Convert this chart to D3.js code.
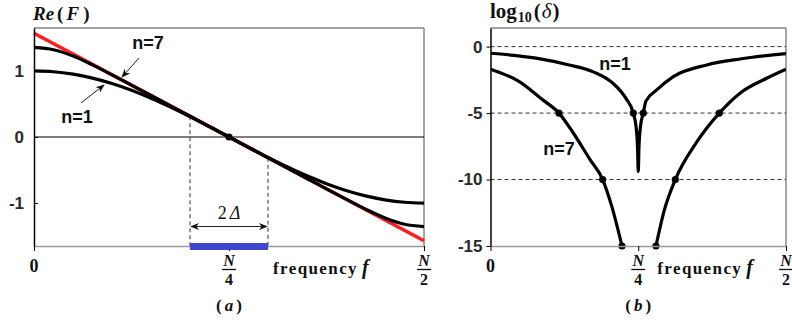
<!DOCTYPE html>
<html>
<head>
<meta charset="utf-8">
<script src="https://cdn.jsdelivr.net/npm/d3@7"></script>
<style>
body { margin: 0; background: #fff; }
.tick text { font-family: "Liberation Sans", Arial, sans-serif; font-weight: bold; font-size: 17px; fill: #2a2a2a; }
.serif { font-family: "Liberation Serif", "Times New Roman", serif; font-weight: bold; }
.lbl { font-family: "Liberation Sans", Arial, sans-serif; font-weight: bold; font-size: 18px; fill: #111; }
</style>
</head>
<body>
<svg width="792" height="320"></svg>
<script>
// **** data, panel (a): Re(F) against frequency (fraction of N) ****
var freqA = [0, 0.025, 0.05, 0.075, 0.1, 0.125, 0.15, 0.175, 0.2, 0.225, 0.25,
             0.275, 0.3, 0.325, 0.35, 0.375, 0.4, 0.425, 0.45, 0.475, 0.5];
var reN1 = [1, 0.988, 0.951, 0.891, 0.809, 0.707, 0.588, 0.454, 0.309, 0.156, 0,
            -0.156, -0.309, -0.454, -0.588, -0.707, -0.809, -0.891, -0.951, -0.988, -1];
var reN7 = [1.356, 1.321, 1.226, 1.092, 0.941, 0.785, 0.628, 0.471, 0.314, 0.157, 0,
            -0.157, -0.314, -0.471, -0.628, -0.785, -0.941, -1.092, -1.226, -1.321, -1.356];
var idealF = [0, 0.5];
var idealRe = [1.571, -1.571];
var ticksA = [-1, 0, 1];
var bandA = [0.2, 0.3];

// **** data, panel (b): log10(delta) ****
var n1F   = [0, 0.077, 0.133, 0.173, 0.207, 0.229, 0.2416, 0.2462, 0.2488, 0.25, 0.2512, 0.2538, 0.2585, 0.263, 0.2813, 0.3093, 0.3658, 0.4222, 0.5];
var n1Log = [-0.5, -0.87, -1.38, -1.88, -2.75, -3.88, -5, -6.0, -7.6, -9.4, -7.6, -6.0, -5, -4.1, -3.26, -2.26, -1.38, -0.93, -0.52];
var n7LeftF   = [0, 0.0487, 0.0883, 0.1159, 0.1401, 0.1684, 0.1898, 0.2051, 0.2225];
var n7LeftLog = [-1.7, -2.63, -4.0, -5, -6.5, -8.5, -10, -12.0, -15];
var n7RightF   = [0.28, 0.2941, 0.3127, 0.3477, 0.3871, 0.4222, 0.4673, 0.5];
var n7RightLog = [-15, -12.3, -10, -7.26, -5, -3.5, -2.38, -1.7];
var dotF   = [0.2416, 0.2585, 0.1159, 0.3871, 0.1898, 0.3127, 0.2225, 0.28];
var dotLog = [-5, -5, -5, -5, -10, -10, -15, -15];
var ticksB = [0, -5, -10, -15];
var gridB = [0, -5, -10];

var svg = d3.select('svg');

// **** scales ****
var xA = d3.scaleLinear().domain([0, 0.5]).range([34, 424]);
var yA = d3.scaleLinear().domain([-1.65, 1.65]).range([246, 28]);
var xB = d3.scaleLinear().domain([0, 0.5]).range([490.5, 786]);
var yB = d3.scaleLinear().domain([-15, 1.4]).range([246, 28]);

function zip(a, b) { return a.map(function(v, i) { return [v, b[i]]; }); }
function plain(d) { return String(d); }   // hyphen minus, as in the original

// ================= panel (a) =================
svg.append('line').attr('x1', 34).attr('x2', 424).attr('y1', 28).attr('y2', 28)
    .attr('stroke', '#444').attr('stroke-width', 1.2);
svg.append('line').attr('x1', 424).attr('x2', 424).attr('y1', 28).attr('y2', 246)
    .attr('stroke', '#888').attr('stroke-width', 1.5);
svg.append('line').attr('x1', 34).attr('x2', 424).attr('y1', yA(0)).attr('y2', yA(0))
    .attr('stroke', '#000').attr('stroke-width', 1.2);

// dashed verticals marking the band
bandA.forEach(function(f) {
    svg.append('line').attr('x1', xA(f)).attr('x2', xA(f))
        .attr('y1', yA(reN7[freqA.indexOf(f)])).attr('y2', 246)
        .attr('stroke', '#555').attr('stroke-width', 1.2).attr('stroke-dasharray', '4,3');
});

var lineA = d3.line().x(function(d) { return xA(d[0]); }).y(function(d) { return yA(d[1]); })
    .curve(d3.curveCatmullRom);

svg.append('path').datum(zip(idealF, idealRe)).attr('d', lineA)
    .attr('fill', 'none').attr('stroke', '#ff1e1e').attr('stroke-width', 3.6);
svg.append('path').datum(zip(freqA, reN1)).attr('d', lineA)
    .attr('fill', 'none').attr('stroke', '#000').attr('stroke-width', 3.2);
svg.append('path').datum(zip(freqA, reN7)).attr('d', lineA)
    .attr('fill', 'none').attr('stroke', '#000').attr('stroke-width', 3.2);

svg.append('circle').attr('cx', xA(0.25)).attr('cy', yA(0)).attr('r', 3.6).attr('fill', '#000');

// axes
svg.append('g').attr('transform', 'translate(34,0)')
    .call(d3.axisLeft(yA).tickValues(ticksA).tickFormat(plain)
        .tickSizeInner(-4).tickSizeOuter(0).tickPadding(10))
    .call(function(g) { g.select('.domain').attr('stroke', '#000').attr('stroke-width', 1.5); });

svg.append('g').attr('transform', 'translate(0,246)')
    .call(d3.axisBottom(xA).tickValues([0, 0.25, 0.5]).tickSizeInner(5).tickSizeOuter(0).tickFormat(''))
    .call(function(g) { g.select('.domain').attr('stroke', '#999').attr('stroke-width', 1.5); });

svg.append('rect').attr('x', xA(bandA[0])).attr('y', 243)
    .attr('width', xA(bandA[1]) - xA(bandA[0])).attr('height', 7)
    .attr('fill', '#3f48cc');

// arrow markers
var defs = svg.append('defs');
defs.append('marker').attr('id', 'ah').attr('viewBox', '0 0 10 10').attr('refX', 9).attr('refY', 5)
    .attr('markerWidth', 9).attr('markerHeight', 9).attr('orient', 'auto-start-reverse')
    .attr('markerUnits', 'userSpaceOnUse')
    .append('path').attr('d', 'M0,1 L10,5 L0,9 L3,5 Z').attr('fill', '#111');

// 2-delta double arrow
svg.append('line').attr('x1', xA(bandA[0]) + 1).attr('x2', xA(bandA[1]) - 1)
    .attr('y1', 226.5).attr('y2', 226.5).attr('stroke', '#222').attr('stroke-width', 1)
    .attr('marker-start', 'url(#ah)').attr('marker-end', 'url(#ah)');
var dl = svg.append('text').attr('x', xA(0.25)).attr('y', 219).attr('text-anchor', 'middle')
    .attr('font-family', '"Liberation Serif", serif').attr('font-size', 18).attr('fill', '#111');
dl.append('tspan').text('2');
dl.append('tspan').attr('dx', 3).attr('font-style', 'italic').text('Δ');

// n labels with arrows
svg.append('text').attr('class', 'lbl').attr('x', 148).attr('y', 49).attr('text-anchor', 'middle').text('n=7');
svg.append('line').attr('x1', 139).attr('y1', 58).attr('x2', 122).attr('y2', 77)
    .attr('stroke', '#222').attr('stroke-width', 1).attr('marker-end', 'url(#ah)');
svg.append('text').attr('class', 'lbl').attr('x', 77).attr('y', 123).attr('text-anchor', 'middle').text('n=1');
svg.append('line').attr('x1', 81).attr('y1', 103).attr('x2', 104).attr('y2', 85)
    .attr('stroke', '#222').attr('stroke-width', 1).attr('marker-end', 'url(#ah)');

// title
var tA = svg.append('text').attr('class', 'serif').attr('x', 33).attr('y', 20)
    .attr('font-size', 19).attr('fill', '#111');
tA.append('tspan').attr('font-style', 'italic').text('Re');
tA.append('tspan').attr('dx', 3).text('(');
tA.append('tspan').attr('dx', 3).attr('font-style', 'italic').text('F');
tA.append('tspan').attr('dx', 4).text(')');

// ================= panel (b) =================
svg.append('line').attr('x1', 490.5).attr('x2', 786).attr('y1', 28).attr('y2', 28)
    .attr('stroke', '#444').attr('stroke-width', 1.2);
svg.append('line').attr('x1', 786).attr('x2', 786).attr('y1', 28).attr('y2', 246)
    .attr('stroke', '#888').attr('stroke-width', 1.5);

svg.selectAll('.gridB').data(gridB).enter().append('line').attr('class', 'gridB')
    .attr('x1', 490.5).attr('x2', 786)
    .attr('y1', function(d) { return yB(d); }).attr('y2', function(d) { return yB(d); })
    .attr('stroke', '#333').attr('stroke-width', 1).attr('stroke-dasharray', '4,3');

defs.append('clipPath').attr('id', 'clipB').append('rect')
    .attr('x', 490.5).attr('y', 28).attr('width', 295.5).attr('height', 218);

var lineB = d3.line().x(function(d) { return xB(d[0]); }).y(function(d) { return yB(d[1]); })
    .curve(d3.curveMonotoneX);
var gB = svg.append('g').attr('clip-path', 'url(#clipB)');
[zip(n1F, n1Log), zip(n7LeftF, n7LeftLog), zip(n7RightF, n7RightLog)].forEach(function(s) {
    gB.append('path').datum(s).attr('d', lineB)
        .attr('fill', 'none').attr('stroke', '#000').attr('stroke-width', 3.2);
});

svg.selectAll('.dotB').data(zip(dotF, dotLog)).enter().append('circle').attr('class', 'dotB')
    .attr('cx', function(d) { return xB(d[0]); }).attr('cy', function(d) { return yB(d[1]); })
    .attr('r', 3.6).attr('fill', '#000');

svg.append('g').attr('transform', 'translate(490.5,0)')
    .call(d3.axisLeft(yB).tickValues(ticksB).tickFormat(plain)
        .tickSizeInner(4).tickSizeOuter(0).tickPadding(4))
    .call(function(g) { g.select('.domain').attr('stroke', '#000').attr('stroke-width', 1.5); });

svg.append('g').attr('transform', 'translate(0,246)')
    .call(d3.axisBottom(xB).tickValues([0, 0.25, 0.5]).tickSizeInner(5).tickSizeOuter(0).tickFormat(''))
    .call(function(g) { g.select('.domain').attr('stroke', '#999').attr('stroke-width', 1.5); });

svg.append('text').attr('class', 'lbl').attr('x', 615).attr('y', 70).attr('text-anchor', 'middle').text('n=1');
svg.append('text').attr('class', 'lbl').attr('x', 559).attr('y', 155).attr('text-anchor', 'middle').text('n=7');

var tB = svg.append('text').attr('class', 'serif').attr('x', 490).attr('y', 18)
    .attr('font-size', 21).attr('fill', '#111');
tB.append('tspan').text('log');
tB.append('tspan').attr('dy', 4).attr('dx', 1).attr('font-size', 14).text('10');
tB.append('tspan').attr('dy', -4).attr('dx', 2).text('(');
tB.append('tspan').attr('dx', 1).attr('font-style', 'italic').attr('font-weight', 'normal').text('δ');
tB.append('tspan').attr('dx', 1).text(')');

// ================= x labels, both panels =================
[[xA, 44, 'a'], [xB, 19, 'b']].forEach(function(p) {
    var xs = p[0];
    svg.append('text').attr('class', 'serif').attr('x', xs(0)).attr('y', 272)
        .attr('text-anchor', 'middle').attr('font-size', 18).attr('fill', '#111').text('0');
    [[0.25, '4'], [0.5, '2']].forEach(function(fr) {
        var cx = xs(fr[0]);
        svg.append('text').attr('class', 'serif').attr('x', cx).attr('y', 266)
            .attr('text-anchor', 'middle').attr('font-size', 16).attr('font-style', 'italic')
            .attr('fill', '#111').text('N');
        svg.append('line').attr('x1', cx - 7).attr('x2', cx + 7).attr('y1', 269.5).attr('y2', 269.5)
            .attr('stroke', '#111').attr('stroke-width', 1.3);
        svg.append('text').attr('class', 'serif').attr('x', cx).attr('y', 285)
            .attr('text-anchor', 'middle').attr('font-size', 16).attr('fill', '#111').text(fr[1]);
    });
    var ft = svg.append('text').attr('class', 'serif').attr('x', xs(0.25) + p[1]).attr('y', 274)
        .attr('font-size', 17).attr('letter-spacing', 1.4).attr('fill', '#111');
    ft.append('tspan').text('frequency');
    ft.append('tspan').attr('dx', 4).attr('font-style', 'italic').attr('font-size', 20).text('f');
    var cap = svg.append('text').attr('class', 'serif').attr('x', xs(0.25)).attr('y', 311)
        .attr('text-anchor', 'middle').attr('font-size', 17).attr('fill', '#111');
    cap.append('tspan').text('(');
    cap.append('tspan').attr('dx', 3).attr('font-style', 'italic').text(p[2]);
    cap.append('tspan').attr('dx', 3).text(')');
});
</script>
</body>
</html>
